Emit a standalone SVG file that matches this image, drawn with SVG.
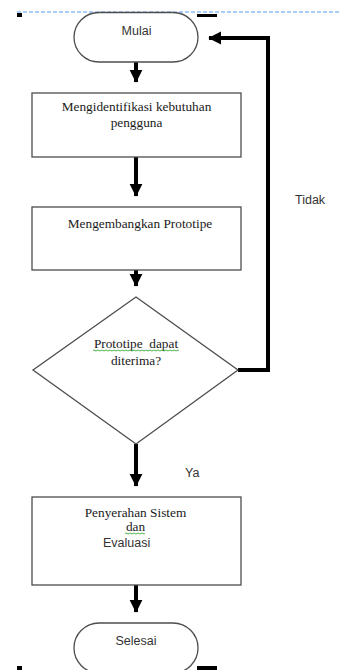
<svg xmlns="http://www.w3.org/2000/svg" width="341" height="670" viewBox="0 0 341 670">
<defs>
<style>
.shape{fill:#fff;stroke:#4d4d4d;stroke-width:1.3}
.serif{font-family:"Liberation Serif","DejaVu Serif","Times New Roman",serif;font-size:13.3px;fill:#1a1a1a;text-anchor:middle}
.sans{font-family:"Liberation Sans",Arial,sans-serif;font-size:12.5px;fill:#333}
.conn{fill:none;stroke:#000;stroke-width:4}
.wavy{fill:none;stroke:#3caa3c;stroke-width:0.9}
.mark{fill:#000}
</style>
<marker id="ah" markerWidth="4" markerHeight="4" refX="3" refY="2" orient="auto" markerUnits="strokeWidth" viewBox="0 0 3.2 4">
<path d="M0,0.4 L3.2,2 L0,3.6 Z" fill="#000"/>
</marker>
</defs>
<rect width="341" height="670" fill="#fff"/>
<line x1="17" y1="12" x2="341" y2="12" stroke="#5b9bef" stroke-width="1.2" stroke-dasharray="4,2"/>
<rect class="mark" x="17" y="13" width="5" height="4"/>
<rect class="mark" x="197" y="14" width="20" height="3"/>
<rect class="mark" x="17" y="666" width="5" height="4"/>
<rect class="mark" x="197" y="666" width="20" height="4"/>
<g id="connectors">
<path class="conn" d="M136,62 L136,82" marker-end="url(#ah)"/>
<path class="conn" d="M136,157 L136,196" marker-end="url(#ah)"/>
<path class="conn" d="M136,270 L136,286" marker-end="url(#ah)"/>
<path class="conn" d="M136,444 L136,486" marker-end="url(#ah)"/>
<path class="conn" d="M136,585 L136,612" marker-end="url(#ah)"/>
<path class="conn" d="M238,370 L268,370 L268,38 L209,38" marker-end="url(#ah)"/>
<text class="sans" x="295" y="204">Tidak</text>
<text class="sans" x="185" y="476.5">Ya</text>
</g>
<g id="mulai">
<rect class="shape" x="74" y="12.5" width="124" height="49.5" rx="25" ry="25"/>
<text class="sans" x="136.5" y="35" text-anchor="middle">Mulai</text>
</g>
<g id="identifikasi">
<rect class="shape" x="32" y="93" width="209" height="64"/>
<text class="serif" x="136.5" y="111">Mengidentifikasi kebutuhan</text>
<text class="serif" x="136.5" y="127">pengguna</text>
</g>
<g id="prototipe">
<rect class="shape" x="32" y="207" width="209" height="63"/>
<text class="serif" x="140" y="228">Mengembangkan Prototipe</text>
</g>
<g id="keputusan">
<polygon class="shape" points="136,297 238,370 136,444 33,370"/>
<text class="serif" x="136" y="348" xml:space="preserve">Prototipe  dapat</text>
<path class="wavy" d="M93,350.5 q1,-1 2,0 t2,0 t2,0 t2,0 t2,0 t2,0 t2,0 t2,0 t2,0 t2,0 t2,0 t2,0 t2,0 t2,0 t2,0 t2,0 t2,0 t2,0 t2,0 t2,0 t2,0 t2,0 t2,0 t2,0 t2,0 t2,0 t2,0 t2,0 t2,0 t2,0 t2,0 t2,0 t2,0 t2,0 t2,0 t2,0 t2,0 t2,0 t2,0 t2,0 t2,0 t2,0 t2,0"/>
<text class="serif" x="136" y="365">diterima?</text>
</g>
<g id="penyerahan">
<rect class="shape" x="32" y="497" width="209" height="88"/>
<text class="serif" x="135.5" y="517">Penyerahan Sistem</text>
<text class="serif" x="135.5" y="531">dan</text>
<path class="wavy" d="M125,533.5 q1,-1 2,0 t2,0 t2,0 t2,0 t2,0 t2,0 t2,0 t2,0 t2,0 t2,0"/>
<text class="sans" x="103" y="546.5" font-size="11.5">Evaluasi</text>
</g>
<g id="selesai">
<rect class="shape" x="74" y="623" width="124" height="50" rx="25" ry="25"/>
<text class="sans" x="136" y="645" text-anchor="middle">Selesai</text>
</g>
</svg>
